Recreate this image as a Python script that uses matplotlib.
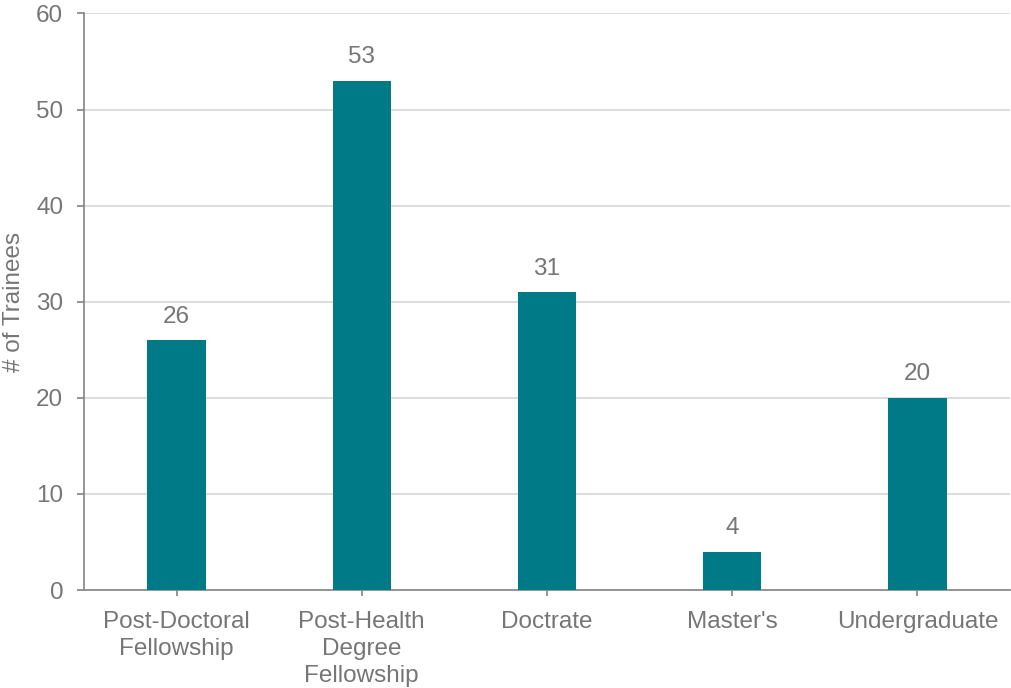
import matplotlib.pyplot as plt
import numpy as np

plt.rcParams['font.family'] = ['Liberation Sans', 'DejaVu Sans']

categories = ['Post-Doctoral\nFellowship', 'Post-Health\nDegree\nFellowship',
              'Doctrate', "Master's", 'Undergraduate']
trainees = [26, 53, 31, 4, 20]

bar_color = '#007A87'
text_color = '#767676'
axis_color = '#8C8C8C'
grid_color = '#D9D9D9'

fig = plt.figure(figsize=(10.12, 6.88), dpi=100)
ax = fig.add_axes([0.083, 0.1424, 0.915, 0.838])

x = np.arange(len(categories))
bars = ax.bar(x, trainees, width=0.315, color=bar_color, zorder=3)

# value labels above each bar
for xi, v in zip(x, trainees):
    ax.annotate(str(v), (xi, v), xytext=(0, 9), textcoords='offset points',
                ha='center', va='bottom', fontsize=17.5, color=text_color)

ax.set_xlim(-0.5, len(categories) - 0.5)
ax.set_ylim(0, 60)
ax.set_yticks(range(0, 61, 10))
ax.set_xticks(x)
ax.set_xticklabels(categories, linespacing=1.3)

ax.yaxis.grid(True, color=grid_color, linewidth=1.3, zorder=0)
ax.set_axisbelow(True)

for side in ('top', 'right'):
    ax.spines[side].set_visible(False)
for side in ('left', 'bottom'):
    ax.spines[side].set_color(axis_color)
    ax.spines[side].set_linewidth(1.3)

ax.tick_params(axis='y', length=5, width=1.3, color=axis_color,
               labelcolor=text_color, labelsize=17.5, pad=10)
ax.tick_params(axis='x', length=4, width=1.3, color=axis_color,
               labelcolor=text_color, labelsize=17.5, pad=11)

ax.set_ylabel('# of Trainees', fontsize=17.5, color=text_color, va='center')
ax.yaxis.set_label_coords(-0.0756, 0.5)

fig.savefig('out.png', dpi=100)
